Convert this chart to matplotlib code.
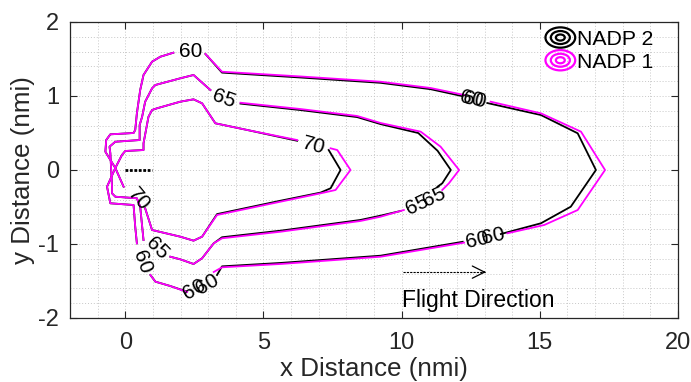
import numpy as np
import matplotlib.pyplot as plt
from matplotlib.legend_handler import HandlerBase
from matplotlib.patches import Ellipse
from matplotlib.lines import Line2D
from matplotlib.ticker import MultipleLocator

plt.rcParams['font.family'] = ['Liberation Sans', 'DejaVu Sans']
plt.rcParams['axes.unicode_minus'] = False

nan = np.nan

# contour lines (nmi), nan = break for an inline label
# NADP 1 (magenta)
nadp1_60_x = [-0.06, -0.36, -0.72, -0.69, -0.54, 0.30, 0.36, 0.42, 0.54, 0.66, 0.97, 1.27, 1.74, nan,
              2.90, 3.50, 6.34, 9.24, 11.05, 12.26, nan,
              13.22, 15.04, 16.49, 17.36, 16.37, 15.16, 13.83, nan,
              12.26, 9.24, 5.62, 3.50, 3.20, nan,
              2.24, 1.63, 1.09, 0.91]
nadp1_60_y = [-0.226, 0.027, 0.247, 0.405, 0.482, 0.500, 0.541, 0.766, 1.081, 1.284, 1.464, 1.531, 1.585, nan,
              1.568, 1.328, 1.264, 1.193, 1.108, 1.014, nan,
              0.923, 0.766, 0.518, 0.0, -0.541, -0.743, -0.855, nan,
              -0.982, -1.172, -1.270, -1.315, -1.378, nan,
              -1.649, -1.568, -1.509, -1.419]

nadp1_65_x = [0.66, 0.54, 0.42, -0.36, -0.48, -0.48, -0.54, -0.57, -0.36, 0.52, 0.52, 0.61, 0.72, 0.97, 1.09, 1.99, 2.47, 3.08, nan,
              4.17, 6.34, 8.39, 9.24, 10.69, 11.41, 12.08, 11.71, 11.47, nan,
              10.08, 9.24, 8.51, 5.62, 3.50, 3.20, 2.78, 2.47, 1.99, 1.63]
nadp1_65_y = [-0.946, -0.496, -0.382, -0.361, -0.315, -0.226, 0.226, 0.315, 0.382, 0.405, 0.608, 0.720, 0.923, 1.104, 1.149, 1.239, 1.284, 1.081, nan,
              0.909, 0.824, 0.730, 0.635, 0.518, 0.315, 0.0, -0.180, -0.270, nan,
              -0.541, -0.631, -0.689, -0.834, -0.923, -0.991, -1.193, -1.270, -1.207, -1.172]

nadp1_70_x = [0.42, 0.36, 0.30, -0.54, -0.66, -0.36, -0.12, 0.0, 0.66, 0.66, 0.84, 0.97, 1.15, 1.99, 2.47, 2.78, 3.26, 4.41, 6.22, nan,
              7.43, 7.67, 8.15, 7.61, 7.07, 5.62, 3.32, 2.78, 2.47, 1.99, 0.97, 0.72]
nadp1_70_y = [-0.991, -0.766, -0.473, -0.450, -0.226, 0.027, 0.203, 0.257, 0.270, 0.361, 0.720, 0.811, 0.834, 0.923, 0.955, 0.901, 0.631, 0.541, 0.405, nan,
              0.293, 0.270, 0.0, -0.270, -0.315, -0.428, -0.608, -0.901, -0.955, -0.901, -0.811, -0.518]

# NADP 2 (black)
nadp2_60_x = [-0.06, -0.36, -0.72, -0.69, -0.54, 0.30, 0.36, 0.42, 0.54, 0.66, 0.97, 1.27, 1.74, nan,
              2.90, 3.50, 6.34, 9.24, 11.05, 12.20, nan,
              13.10, 15.04, 16.37, 17.03, 16.12, 15.04, 13.59, nan,
              12.21, 9.24, 5.62, 3.50, 3.32, nan,
              2.20, 1.63, 1.09, 0.91]
nadp2_60_y = [-0.226, 0.027, 0.247, 0.405, 0.482, 0.500, 0.541, 0.766, 1.081, 1.284, 1.464, 1.531, 1.585, nan,
              1.568, 1.316, 1.250, 1.178, 1.092, 0.998, nan,
              0.905, 0.743, 0.496, 0.0, -0.496, -0.720, -0.865, nan,
              -0.970, -1.158, -1.256, -1.302, -1.419, nan,
              -1.640, -1.568, -1.509, -1.419]

nadp2_65_x = [0.66, 0.54, 0.42, -0.36, -0.48, -0.48, -0.54, -0.57, -0.36, 0.52, 0.52, 0.61, 0.72, 0.97, 1.09, 1.99, 2.47, 3.08, nan,
              4.17, 6.34, 8.39, 9.24, 10.60, 11.30, 11.78, 11.47, 11.30, nan,
              9.96, 9.24, 8.51, 5.62, 3.50, 3.20, 2.78, 2.47, 1.99, 1.63]
nadp2_65_y = [-0.946, -0.496, -0.382, -0.361, -0.315, -0.226, 0.226, 0.315, 0.382, 0.405, 0.608, 0.720, 0.923, 1.104, 1.149, 1.239, 1.284, 1.081, nan,
              0.897, 0.810, 0.715, 0.620, 0.500, 0.260, 0.0, -0.180, -0.225, nan,
              -0.554, -0.617, -0.675, -0.820, -0.909, -0.991, -1.193, -1.270, -1.207, -1.172]

nadp2_70_x = [0.42, 0.36, 0.30, -0.54, -0.66, -0.36, -0.12, 0.0, 0.66, 0.66, 0.84, 0.97, 1.15, 1.99, 2.47, 2.78, 3.26, 4.41, 6.22, nan,
              7.36, 7.79, 7.43, 7.07, 5.62, 3.32, 2.78, 2.47, 1.99, 0.97, 0.72]
nadp2_70_y = [-0.991, -0.766, -0.473, -0.450, -0.226, 0.027, 0.203, 0.257, 0.270, 0.361, 0.720, 0.811, 0.834, 0.923, 0.955, 0.901, 0.631, 0.541, 0.395, nan,
              0.270, 0.0, -0.247, -0.305, -0.415, -0.596, -0.901, -0.955, -0.901, -0.811, -0.518]

# inline contour labels
label_txt = ['60', '65', '70', '60', '60', '65', '65', '60', '60', '70', '65', '60', '60', '60']
label_x = [2.36, 3.58, 6.81, 12.54, 12.64, 10.57, 11.17, 12.74, 13.33, 0.47, 1.15, 0.61, 2.50, 2.97]
label_y = [1.595, 0.96, 0.33, 0.96, 0.94, -0.47, -0.36, -0.946, -0.90, -0.40, -1.06, -1.24, -1.61, -1.54]
label_rot = [0, -20, -15, -12, -12, 25, 25, 12, 12, -50, -45, -70, 30, 30]

# aircraft position and flight direction
path_x = [0.0, 0.97]
path_y = [0.0, 0.0]
arrow_x = [10.05, 13.05]
arrow_y = [-1.38, -1.38]

MAG = '#ff00ff'


class HandlerRings(HandlerBase):
    # contour style legend icon: three concentric ellipses
    def create_artists(self, legend, orig_handle, xdescent, ydescent, width, height, fontsize, trans):
        cx = width / 2 - xdescent
        cy = height / 2 - ydescent
        col = orig_handle.get_color()
        arts = []
        for f in (1.0, 0.64, 0.3):
            arts.append(Ellipse((cx, cy), width * f, height * 1.25 * f, fill=False,
                                edgecolor=col, lw=1.6, transform=trans))
        return arts


fig = plt.figure(figsize=(6.91, 3.82), dpi=100)
ax = fig.add_axes([70 / 691, 1 - 318 / 382, 608 / 691, 296 / 382])

lw = 1.3
ax.plot(nadp2_60_x, nadp2_60_y, color='k', lw=lw)
ax.plot(nadp2_65_x, nadp2_65_y, color='k', lw=lw)
ax.plot(nadp2_70_x, nadp2_70_y, color='k', lw=lw)
ax.plot(nadp1_60_x, nadp1_60_y, color=MAG, lw=lw)
ax.plot(nadp1_65_x, nadp1_65_y, color=MAG, lw=lw)
ax.plot(nadp1_70_x, nadp1_70_y, color=MAG, lw=lw)

for t, x, y, r in zip(label_txt, label_x, label_y, label_rot):
    ax.text(x, y, t, fontsize=15, rotation=r, ha='center', va='center', color='k')

ax.plot(path_x, path_y, color='k', lw=2, linestyle=(0, (1, 0.6)))

ax.plot(arrow_x, arrow_y, color='k', lw=0.8, linestyle=(0, (2, 1)))
ax.annotate('', xy=(arrow_x[1], arrow_y[1]), xytext=(arrow_x[1] - 0.2, arrow_y[1]),
            arrowprops=dict(arrowstyle='->', color='k', lw=0.9, mutation_scale=22))
ax.text(10.0, -1.76, 'Flight Direction', fontsize=16.5, ha='left', va='center')

ax.set_xlim(-2, 20)
ax.set_ylim(-2, 2)
ax.xaxis.set_major_locator(MultipleLocator(5))
ax.xaxis.set_minor_locator(MultipleLocator(1))
ax.yaxis.set_major_locator(MultipleLocator(1))
ax.yaxis.set_minor_locator(MultipleLocator(0.2))
ax.grid(True, which='both', linestyle=(0, (1, 2)), color='0.78', lw=0.7)
ax.set_axisbelow(True)
ax.tick_params(which='major', direction='in', top=True, right=True, length=5,
               labelsize=17, colors='0.15')
ax.tick_params(axis='x', which='major', pad=10)
ax.tick_params(axis='y', which='major', pad=8)
ax.tick_params(which='minor', length=0)
for s in ax.spines.values():
    s.set_color('0.15')
    s.set_linewidth(0.9)

ax.set_xlabel('x Distance (nmi)', fontsize=18.7, color='0.15', labelpad=2)
ax.set_ylabel('y Distance (nmi)', fontsize=18.7, color='0.15', labelpad=2)

h2 = Line2D([], [], color='k')
h1 = Line2D([], [], color=MAG)
ax.legend([h2, h1], ['NADP 2', 'NADP 1'], handler_map={Line2D: HandlerRings()},
          loc='upper left', bbox_to_anchor=(0.782, 0.975), frameon=False, fontsize=15.3,
          handlelength=1.4, handleheight=0.8, handletextpad=0.1, labelspacing=0.15,
          borderpad=0, borderaxespad=0)

fig.savefig('out.png', dpi=100)
